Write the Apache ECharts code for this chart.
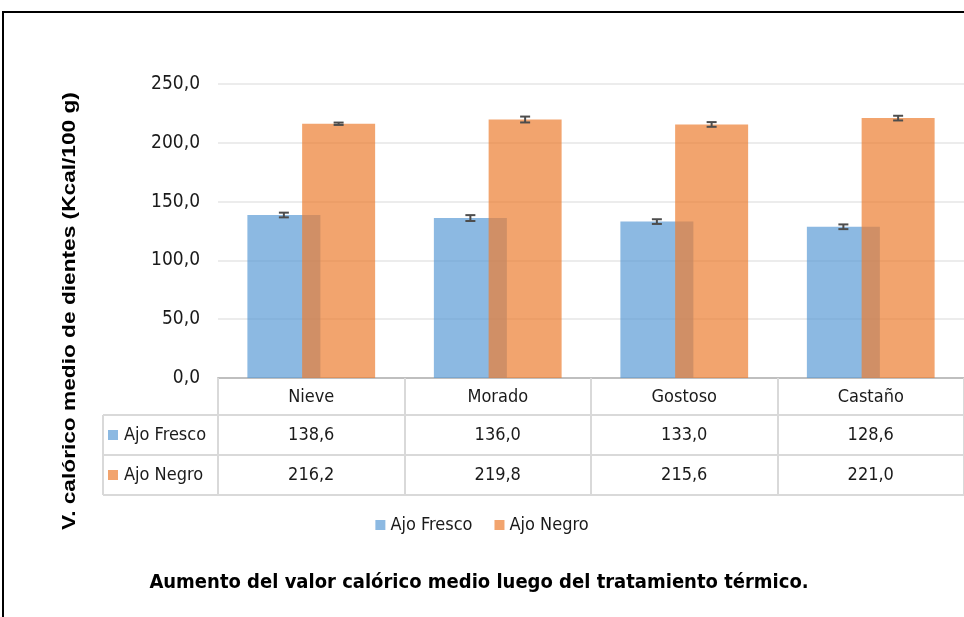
<!DOCTYPE html>
<html>
<head>
<meta charset="utf-8">
<script src="https://cdn.jsdelivr.net/npm/echarts@6/dist/echarts.min.js"></script>
<style>
  html, body { margin: 0; padding: 0; background: #fff; }
  #chart { width: 964px; height: 617px; }
</style>
</head>
<body>
<div id="chart"></div>
<script>
// datos del gráfico
const categorias = ['Nieve', 'Morado', 'Gostoso', 'Castaño']
const series = ['Ajo Fresco', 'Ajo Negro']
const ajoFresco = [138.6, 136.0, 133.0, 128.6]
const ajoNegro = [216.2, 219.8, 215.6, 221.0]
const errFresco = [2.0, 2.5, 2.0, 2.0]
const errNegro = [1.0, 2.5, 2.0, 2.0]
const yTicks = [0, 50, 100, 150, 200, 250]

const narrow = "'Liberation Sans Narrow', 'DejaVu Sans Condensed', sans-serif"
const azul = 'rgba(91, 155, 213, 0.7)'
const naranja = 'rgba(237, 125, 49, 0.7)'
const lineaTabla = '#d9d9d9'
const txt = '#1a1a1a'
const barW = 73
const desp = (barW - barW * 0.25) / 2 // mitad de la distancia entre barras

const fmt = v => v.toFixed(1).replace('.', ',')

// barras de error
function errorBar(offset) {
  return function (params, api) {
    const i = api.value(0)
    const v = api.value(1)
    const e = api.value(2)
    const x = api.coord([i, 0])[0] + offset
    const yH = api.coord([i, v + e])[1]
    const yL = api.coord([i, v - e])[1]
    const st = { stroke: '#4d4d4d', lineWidth: 2 }
    return {
      type: 'group',
      children: [
        { type: 'line', shape: { x1: x, y1: yH, x2: x, y2: yL }, style: st },
        { type: 'line', shape: { x1: x - 5, y1: yH, x2: x + 5, y2: yH }, style: st },
        { type: 'line', shape: { x1: x - 5, y1: yL, x2: x + 5, y2: yL }, style: st }
      ]
    }
  }
}

const chart = echarts.init(document.getElementById('chart'))

const tablaAxis = (offset, labels, margin) => ({
  type: 'category',
  data: categorias,
  position: 'bottom',
  offset: offset,
  axisLine: { show: true, lineStyle: { color: lineaTabla, width: 2 } },
  axisTick: { show: false },
  axisLabel: {
    show: !!labels,
    interval: 0,
    margin: margin,
    fontFamily: narrow,
    fontSize: 18,
    color: txt,
    formatter: (v, idx) => labels ? fmt(labels[idx]) : ''
  }
})

chart.setOption({
  animation: false,
  grid: { left: 218, right: -2, top: 84, bottom: 239 },
  legend: {
    data: series,
    top: 511,
    left: 'center',
    itemWidth: 10,
    itemHeight: 10,
    itemGap: 22,
    icon: 'rect',
    textStyle: { fontFamily: narrow, fontSize: 18, color: txt }
  },
  xAxis: [
    {
      type: 'category',
      data: categorias,
      position: 'bottom',
      axisLine: { show: true, lineStyle: { color: '#bfbfbf', width: 2 } },
      axisTick: {
        show: true, interval: 0, length: 117, alignWithLabel: false,
        lineStyle: { color: lineaTabla, width: 2 }
      },
      axisLabel: {
        interval: 0, margin: 10,
        fontFamily: narrow, fontSize: 18, color: txt
      }
    },
    tablaAxis(37, ajoFresco, 11),
    tablaAxis(77, ajoNegro, 11),
    tablaAxis(117, null, 10)
  ],
  yAxis: {
    type: 'value',
    min: yTicks[0],
    max: yTicks[yTicks.length - 1],
    interval: 50,
    axisLine: { show: false },
    axisTick: { show: false },
    axisLabel: {
      margin: 18,
      fontFamily: narrow, fontSize: 19, color: txt,
      formatter: v => fmt(v)
    },
    splitLine: { lineStyle: { color: '#ececec', width: 2 } }
  },
  series: [
    {
      name: series[0],
      type: 'bar',
      data: ajoFresco,
      barWidth: barW,
      barGap: '-25%',
      itemStyle: { color: azul }
    },
    {
      name: series[1],
      type: 'bar',
      data: ajoNegro,
      barWidth: barW,
      barGap: '-25%',
      itemStyle: { color: naranja }
    },
    {
      type: 'custom',
      renderItem: errorBar(-desp),
      data: ajoFresco.map((v, i) => [i, v, errFresco[i]]),
      encode: { x: 0, y: 1 },
      z: 10,
      silent: true
    },
    {
      type: 'custom',
      renderItem: errorBar(desp),
      data: ajoNegro.map((v, i) => [i, v, errNegro[i]]),
      encode: { x: 0, y: 1 },
      z: 10,
      silent: true
    }
  ],
  graphic: [
    // marco exterior
    {
      type: 'rect', shape: { x: 3, y: 12, width: 1000, height: 640 },
      style: { fill: 'none', stroke: '#000', lineWidth: 2 }, silent: true
    },
    // columna de leyenda de la tabla
    { type: 'line', shape: { x1: 103, y1: 415, x2: 218, y2: 415 }, style: { stroke: lineaTabla, lineWidth: 2 } },
    { type: 'line', shape: { x1: 103, y1: 455, x2: 218, y2: 455 }, style: { stroke: lineaTabla, lineWidth: 2 } },
    { type: 'line', shape: { x1: 103, y1: 495, x2: 218, y2: 495 }, style: { stroke: lineaTabla, lineWidth: 2 } },
    { type: 'line', shape: { x1: 103, y1: 415, x2: 103, y2: 495 }, style: { stroke: lineaTabla, lineWidth: 2 } },
    { type: 'rect', shape: { x: 108, y: 430, width: 10, height: 10 }, style: { fill: azul } },
    { type: 'rect', shape: { x: 108, y: 470, width: 10, height: 10 }, style: { fill: naranja } },
    {
      type: 'text', x: 124, y: 435,
      style: { text: series[0], fontFamily: narrow, fontSize: 18, fill: txt, verticalAlign: 'middle' }
    },
    {
      type: 'text', x: 124, y: 475,
      style: { text: series[1], fontFamily: narrow, fontSize: 18, fill: txt, verticalAlign: 'middle' }
    },
    // título del eje Y (alargado como en el original)
    {
      type: 'text', x: 70, y: 311, rotation: Math.PI / 2, scaleX: 1.26,
      style: {
        text: 'V. calórico medio de dientes (Kcal/100 g)',
        fontFamily: "'Liberation Sans', Arial, sans-serif",
        fontWeight: 'bold', fontSize: 18, fill: '#000',
        align: 'center', verticalAlign: 'middle'
      }
    },
    // título inferior
    {
      type: 'text', x: 479, y: 583,
      style: {
        text: 'Aumento del valor calórico medio luego del tratamiento térmico.',
        fontFamily: narrow, fontWeight: 'bold', fontSize: 20, fill: '#000',
        align: 'center', verticalAlign: 'middle'
      }
    }
  ]
})
</script>
</body>
</html>
